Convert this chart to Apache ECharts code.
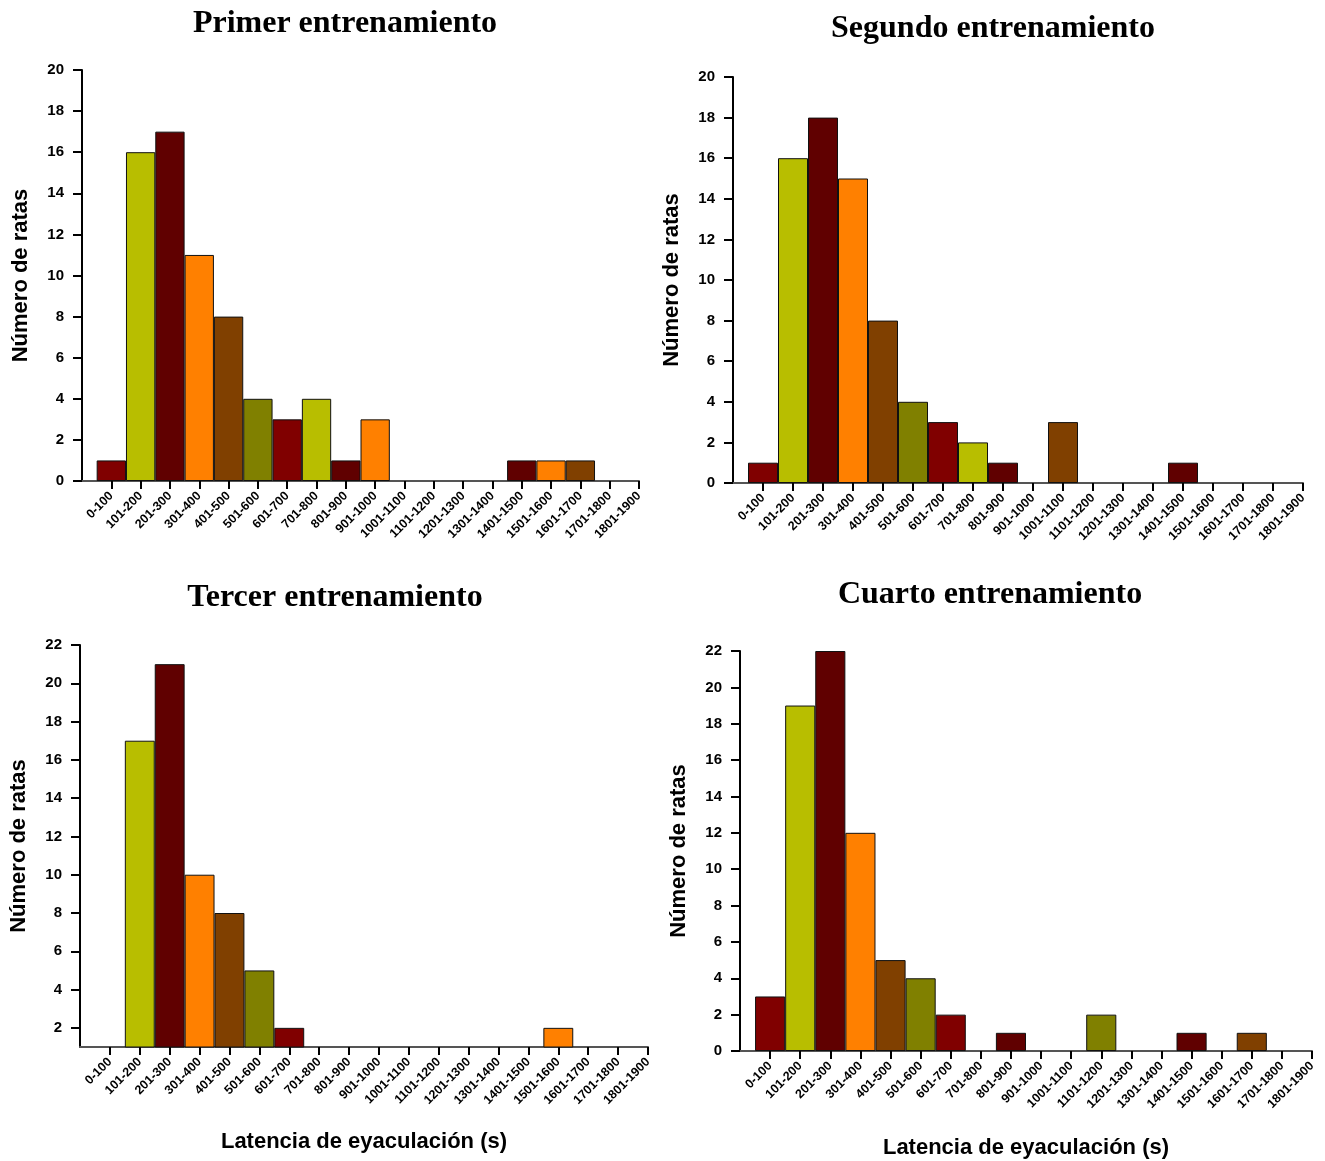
<!DOCTYPE html>
<html>
<head>
<meta charset="utf-8">
<script src="https://cdn.jsdelivr.net/npm/echarts@6/dist/echarts.min.js"></script>
<style>
html,body{margin:0;padding:0;background:#fff;}
#chart{width:1325px;height:1161px;}
</style>
</head>
<body>
<div id="chart"></div>
<script>
// ---- DATA ----
var categories = ['0-100','101-200','201-300','301-400','401-500','501-600','601-700','701-800','801-900','901-1000','1001-1100','1101-1200','1201-1300','1301-1400','1401-1500','1501-1600','1601-1700','1701-1800','1801-1900'];
var primerValues  = [1,16,17,11,8,4,3,4,1,3,0,0,0,0,1,1,1,0,0];
var segundoValues = [1,16,18,15,8,4,3,2,1,0,3,0,0,0,1,0,0,0,0];
var tercerValues  = [0,17,21,10,8,5,2,0,0,0,0,0,0,0,0,2,0,0,0];
var cuartoValues  = [3,19,22,12,5,4,2,0,1,0,0,2,0,0,1,0,1,0,0];
var titles = ['Primer entrenamiento','Segundo entrenamiento','Tercer entrenamiento','Cuarto entrenamiento'];
var yAxisName = 'Número de ratas';
var xAxisName = 'Latencia de eyaculación (s)';
var yTicks1 = [0,2,4,6,8,10,12,14,16,18,20];
var yTicks2 = [0,2,4,6,8,10,12,14,16,18,20];
var yTicks3 = [2,4,6,8,10,12,14,16,18,20,22];
var yTicks4 = [0,2,4,6,8,10,12,14,16,18,20,22];

// ---- STYLE ----
var palette = ['#800000','#b8be00','#600000','#ff8000','#804000','#808000'];
var sans = '"Liberation Sans", Arial, sans-serif';
var serif = '"Liberation Serif", "Times New Roman", serif';

var panels = [
  {vals: primerValues,  ticks: yTicks1, min: 0, max: 20, grid: {left: 82, top: 70, width: 557, height: 411}, title: {x: 340, y: 3}, xname: false},
  {vals: segundoValues, ticks: yTicks2, min: 0, max: 20, grid: {left: 733, top: 77, width: 570, height: 406}, title: {x: 988, y: 8}, xname: false},
  {vals: tercerValues,  ticks: yTicks3, min: 1, max: 22, grid: {left: 80, top: 645, width: 568, height: 402}, title: {x: 330, y: 577}, xname: true, gap: 84},
  {vals: cuartoValues,  ticks: yTicks4, min: 0, max: 22, grid: {left: 740, top: 651, width: 572, height: 400}, title: {x: 985, y: 574}, xname: true, gap: 86}
];

var axisCats = [''].concat(categories);

var option = {
  animation: false,
  backgroundColor: '#fff',
  title: [], grid: [], xAxis: [], yAxis: [], series: []
};

panels.forEach(function (p, i) {
  option.title.push({
    text: titles[i], left: p.title.x, top: p.title.y, textAlign: 'center',
    textStyle: {fontFamily: serif, fontWeight: 'bold', fontSize: 32, color: '#000'}
  });
  option.grid.push(Object.assign({containLabel: false}, p.grid));
  option.xAxis.push({
    type: 'category', gridIndex: i, data: axisCats, boundaryGap: false,
    name: p.xname ? xAxisName : '', nameLocation: 'middle', nameGap: p.gap || 0,
    nameTextStyle: {fontFamily: sans, fontWeight: 'bold', fontSize: 22, color: '#000'},
    axisLine: {show: true, lineStyle: {color: '#555', width: 2}},
    axisTick: {show: true, length: 8, lineStyle: {color: '#000', width: 2},
      interval: function (idx) { return idx > 0; }},
    axisLabel: {interval: 0, rotate: 45, margin: 13, fontFamily: sans, fontWeight: 'bold', fontSize: 12.5, color: '#000'},
    splitLine: {show: false}
  });
  option.yAxis.push({
    type: 'value', gridIndex: i, min: p.min, max: p.max,
    name: yAxisName, nameLocation: 'middle', nameGap: 50,
    nameTextStyle: {fontFamily: sans, fontWeight: 'bold', fontSize: 22, color: '#000'},
    axisLine: {show: true, lineStyle: {color: '#000', width: 2}},
    axisTick: {show: true, length: 9, lineStyle: {color: '#000', width: 2}, customValues: p.ticks},
    axisLabel: {margin: 18, fontFamily: sans, fontWeight: 'bold', fontSize: 15, color: '#000', customValues: p.ticks},
    splitLine: {show: false}
  });
  option.series.push({
    type: 'bar', xAxisIndex: i, yAxisIndex: i,
    barCategoryGap: '0%', clip: true,
    data: [null].concat(p.vals.map(function (v) { return v === 0 ? null : v; })),
    itemStyle: {
      borderColor: '#111', borderWidth: 1,
      color: function (params) { return palette[(params.dataIndex - 1) % palette.length]; }
    }
  });
});

var chart = echarts.init(document.getElementById('chart'), null, {renderer: 'canvas'});
chart.setOption(option);
</script>
</body>
</html>
